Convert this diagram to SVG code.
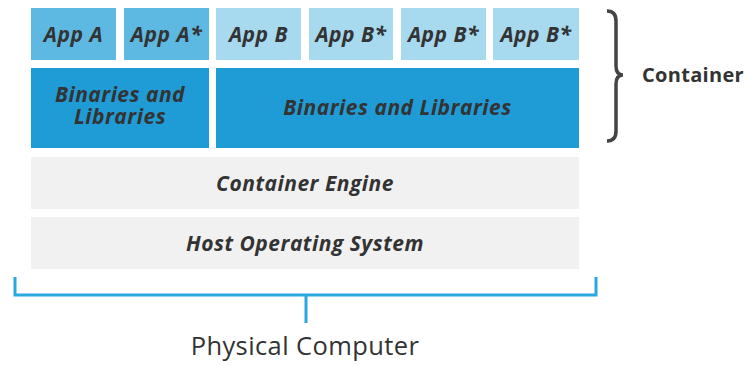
<svg xmlns="http://www.w3.org/2000/svg" width="748" height="365" viewBox="0 0 748 365">
<style>
.lbl{font-family:"Open Sans",sans-serif;font-weight:700;font-style:italic;font-size:21px;letter-spacing:0.5px;fill:#333;text-anchor:middle}
.a{fill:#5db9e2}
.b{fill:#a7d9ef}
.bin{fill:#1f9bd6}
.g{fill:#f1f1f1}
</style>
<rect width="748" height="365" fill="#fff"/>
<g id="appA"><rect class="a" x="31" y="8" width="85" height="52"/><text class="lbl" x="73.5" y="42">App A</text></g>
<g id="appA2"><rect class="a" x="124" y="8" width="85" height="52"/><text class="lbl" x="166.5" y="42">App A*</text></g>
<g id="appB"><rect class="b" x="216" y="8" width="85" height="52"/><text class="lbl" x="258.5" y="42">App B</text></g>
<g id="appB2"><rect class="b" x="309" y="8" width="84" height="52"/><text class="lbl" x="351" y="42">App B*</text></g>
<g id="appB3"><rect class="b" x="401" y="8" width="85" height="52"/><text class="lbl" x="443.5" y="42">App B*</text></g>
<g id="appB4"><rect class="b" x="493" y="8" width="86" height="52"/><text class="lbl" x="536" y="42">App B*</text></g>
<g id="binA"><rect class="bin" x="31" y="68" width="178" height="80"/><text class="lbl"><tspan x="120" y="102">Binaries and</tspan><tspan x="120" y="124">Libraries</tspan></text></g>
<g id="binB"><rect class="bin" x="216" y="68" width="363" height="80"/><text class="lbl" x="397.5" y="115">Binaries and Libraries</text></g>
<g id="engine"><rect class="g" x="31" y="157" width="548" height="52"/><text class="lbl" x="305" y="191">Container Engine</text></g>
<g id="hostos"><rect class="g" x="31" y="217" width="548" height="52"/><text class="lbl" x="305" y="251">Host Operating System</text></g>
<g id="connectors" fill="none" stroke-linecap="butt">
<path d="M15,277 V295 H596 V277 M306,295 V323" stroke="#2aa7df" stroke-width="3"/>
<path d="M607,11 Q616,11 616,21 L616,66 Q616,75 623,75 Q616,75 616,84 L616,131 Q616,141 607,141" stroke="#444" stroke-width="3.5"/>
</g>
<g id="container-label"><text x="642" y="82" font-family="'Open Sans',sans-serif" font-weight="700" font-size="20" letter-spacing="0.3" fill="#333">Container</text></g>
<g id="physical-label"><text x="305" y="355" font-family="'Open Sans',sans-serif" font-size="25.5" letter-spacing="0.4" fill="#333" text-anchor="middle">Physical Computer</text></g>
</svg>
